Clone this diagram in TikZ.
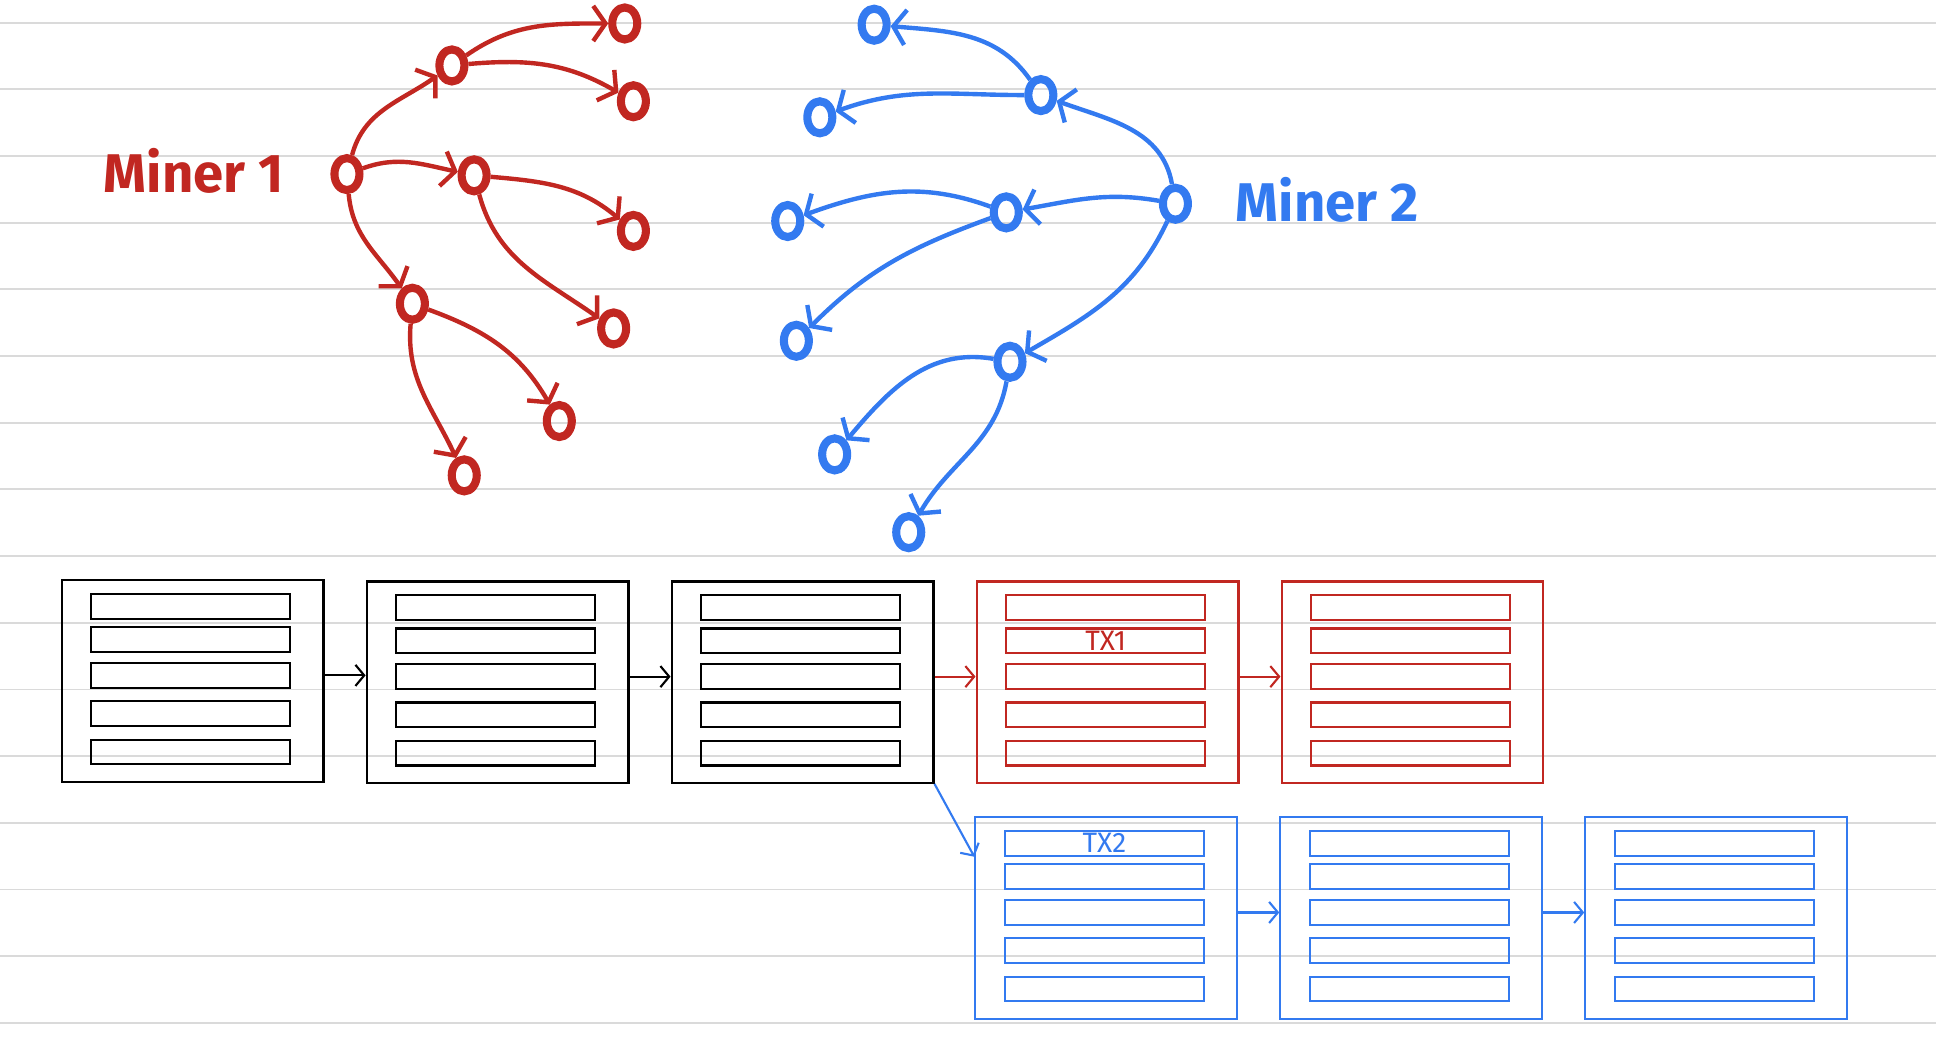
\documentclass[tikz,border=0pt]{standalone}
\usepackage{fontspec}
\setsansfont{Fira Sans}
\usetikzlibrary{arrows.meta,shapes.geometric}

\definecolor{minerred}{RGB}{193,39,33}
\definecolor{minerblue}{RGB}{51,122,240}
\definecolor{ruling}{RGB}{218,218,218}

\tikzset{
  knot/.style={draw,ellipse,line width=2.3pt,minimum width=0.25cm,minimum height=0.32cm,inner sep=0pt},
  hop/.style={line width=1.25pt,-{Straight Barb[length=3.5pt,width=10pt]}},
  minername/.style={font=\sffamily\bfseries\fontsize{15.5}{18}\selectfont},
  blk/.style={draw,line width=0.6pt,minimum width=2.618cm,minimum height=2.013cm,inner sep=0pt},
  txrow/.style={draw,line width=0.6pt,minimum width=1.988cm,minimum height=0.247cm,inner sep=0pt},
  txname/.style={font=\sffamily\fontsize{8}{9}\selectfont,inner sep=0pt},
  chain/.style={line width=0.6pt,-{Straight Barb[length=2.5pt,width=6pt]}}
}

\begin{document}
\begin{tikzpicture}[x=0.01235cm,y=0.01235cm]
	\useasboundingbox (0,0) rectangle (1568,-855);

	% the ruled paper
	\foreach \k in {0,...,15}
		\draw[ruling,line width=0.55pt] (0,-18.4-54*\k) -- (1568,-18.4-54*\k);

	% Miner 1 and the nodes it reaches
	\begin{scope}[minerred]
	\node[minername] (m1) at (157,-138) {Miner 1};
	\node[knot] (r) at (281,-141) {};
	\node[knot] (a) at (366,-53) {};
	\node[knot] (b) at (384,-142) {};
	\node[knot] (c) at (334,-246) {};
	\node[knot] (a1) at (506,-19) {};
	\node[knot] (a2) at (513,-82) {};
	\node[knot] (b1) at (513,-187) {};
	\node[knot] (b2) at (497,-266) {};
	\node[knot] (c1) at (453,-341) {};
	\node[knot] (c2) at (376,-385) {};
	\draw[hop] (r) to[out=75,in=-145] (a);
	\draw[hop] (r) to[out=20,in=168] (b);
	\draw[hop] (r) to[out=-85,in=125] (c);
	\draw[hop] (a) to[out=35,in=180] (a1);
	\draw[hop] (a) to[out=5,in=150] (a2);
	\draw[hop] (b) to[out=-5,in=140] (b1);
	\draw[hop] (b) to[out=-75,in=145] (b2);
	\draw[hop] (c) to[out=-20,in=120] (c1);
	\draw[hop] (c) to[out=-95,in=115] (c2);
	\end{scope}

	% Miner 2 and the nodes it reaches
	\begin{scope}[minerblue]
	\node[minername] (m2) at (1075,-162) {Miner 2};
	\node[knot] (s) at (952,-165) {};
	\node[knot] (p) at (843,-77) {};
	\node[knot] (q) at (815,-172) {};
	\node[knot] (t) at (818,-293) {};
	\node[knot] (p1) at (708,-20) {};
	\node[knot] (p2) at (664,-95) {};
	\node[knot] (q1) at (638,-179) {};
	\node[knot] (q2) at (645,-276) {};
	\node[knot] (t1) at (676,-368) {};
	\node[knot] (t2) at (736,-431) {};
	\draw[hop] (s) to[out=100,in=-20] (p);
	\draw[hop] (s) to[out=170,in=10] (q);
	\draw[hop] (s) to[out=-115,in=30] (t);
	\draw[hop] (p) to[out=125,in=-5] (p1);
	\draw[hop] (p) to[out=180,in=20] (p2);
	\draw[hop] (q) to[out=160,in=20] (q1);
	\draw[hop] (q) to[out=-160,in=45] (q2);
	\draw[hop] (t) to[out=170,in=50] (t1);
	\draw[hop] (t) to[out=-100,in=60] (t2);
	\end{scope}

	% the blocks, five transactions each
	\foreach \n/\x/\y/\c in {1/50/470/black,2/297/471/black,3/544/471/black,
		4/791/471/minerred,5/1038/471/minerred,
		6/790/662/minerblue,7/1037/662/minerblue,8/1284/662/minerblue}{
		\node[blk,draw=\c] (b\n) at (\x+106,-\y-81.5) {};
		\foreach \r/\o in {1/11,2/38,3/67,4/98,5/129}
			\node[txrow,draw=\c] (b\n-\r) at (\x+104.5,-\y-\o-10) {};
	}
	\node[txname,minerred] (tx1) at (b4-2) {TX1};
	\node[txname,minerblue] (tx2) at (b6-1) {TX2};

	% the chain and its fork
	\draw[chain] (b1.east |- b1-3) -- (b2.west |- b1-3);
	\draw[chain] (b2.east |- b2-3) -- (b3.west |- b2-3);
	\draw[chain,minerred] (b3.east |- b3-3) -- (b4.west |- b3-3);
	\draw[chain,minerred] (b4.east |- b4-3) -- (b5.west |- b4-3);
	\draw[chain,minerblue] (b3.south east) -- (b6.west |- b6-1.south);
	\draw[chain,minerblue] (b6.east |- b6-3) -- (b7.west |- b6-3);
	\draw[chain,minerblue] (b7.east |- b7-3) -- (b8.west |- b7-3);
\end{tikzpicture}
\end{document}
